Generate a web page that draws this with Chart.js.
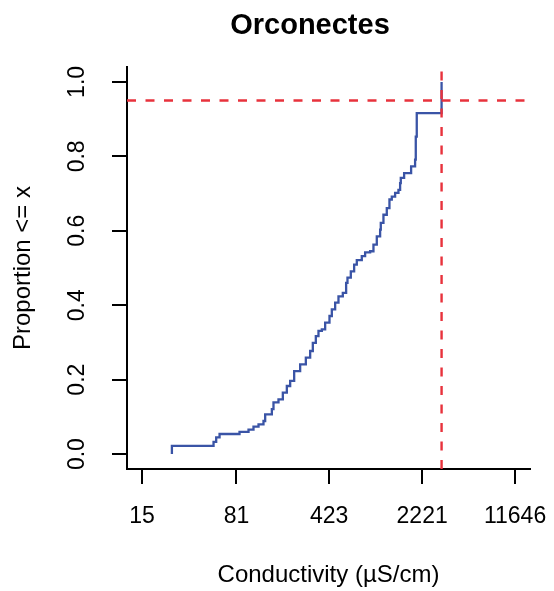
<!DOCTYPE html>
<html>
<head>
<meta charset="utf-8">
<script src="https://cdn.jsdelivr.net/npm/chart.js@4/dist/chart.umd.min.js"></script>
<style>
  html, body { margin: 0; padding: 0; background: #ffffff; }
  #wrap { width: 554px; height: 591px; }
</style>
</head>
<body>
<div id="wrap"><canvas id="c" width="554" height="591"></canvas></div>
<script>
// ---- data (ECDF of conductivity, µS/cm) ----
const conductivity = [25.6, 25.6, 53.8, 56.4, 59.9, 85.5, 100.4, 109.7, 120, 131.1, 135.1, 152.2, 156.7,
  171.3, 185.1, 198.8, 211, 226.6, 252.1, 279, 301.4, 316, 333.4, 349.6, 371.1, 393.8, 425.4, 443.5,
  470.6, 499.4, 539.5, 572.4, 586.3, 622.2, 660.3, 692.3, 756.8, 803.1, 878.2, 931.8, 989, 1049.5,
  1062, 1113.6, 1182, 1239.4, 1292.2, 1371.3, 1455.3, 1499, 1517, 1610, 1824, 1958, 1982, 2017, 3140];
const proportion = [0, 0.022, 0.033, 0.045, 0.054, 0.06, 0.066, 0.074, 0.08, 0.089, 0.107, 0.121, 0.139,
  0.147, 0.165, 0.183, 0.197, 0.223, 0.241, 0.259, 0.277, 0.299, 0.317, 0.331, 0.335, 0.353, 0.371, 0.389,
  0.407, 0.424, 0.433, 0.46, 0.474, 0.491, 0.509, 0.521, 0.532, 0.542, 0.545, 0.563, 0.585, 0.603,
  0.621, 0.643, 0.661, 0.684, 0.692, 0.702, 0.71, 0.728, 0.742, 0.755, 0.773, 0.791, 0.853, 0.916, 1.0];
const refConductivity = 3140;   // vertical dashed line
const refProportion = 0.95;     // horizontal dashed line
const xTickValues = [15, 81, 423, 2221, 11646];
const yTickValues = [0, 0.2, 0.4, 0.6, 0.8, 1.0];
const titleText = 'Orconectes';
const xTitle = 'Conductivity (µS/cm)';
const yTitle = 'Proportion <= x';

// axis limits: 4% extension of the tick range (log scale for x)
const lLo = Math.log10(xTickValues[0]), lHi = Math.log10(xTickValues[xTickValues.length - 1]);
const xMin = Math.pow(10, lLo - 0.04 * (lHi - lLo));
const xMax = Math.pow(10, lHi + 0.04 * (lHi - lLo));
const yMin = -0.04, yMax = 1.04;

Chart.defaults.font.family = '"Liberation Sans", Arial, Helvetica, sans-serif';
Chart.defaults.color = '#000000';

const ecdfPoints = conductivity.map((x, i) => ({ x: x, y: proportion[i] }));
const RED = '#e8323c';
const BLUE = '#3a54a6';

const titleShift = {
  id: 'titleShift',
  afterLayout(chart) {
    const t = chart.titleBlock;
    if (t) { const c = 310; const half = (t.right - t.left) / 2; t.left = c - half; t.right = c + half; }
  }
};

new Chart(document.getElementById('c'), {
  type: 'line',
  data: {
    datasets: [
      {
        data: [{ x: xMin, y: refProportion }, { x: xMax, y: refProportion }],
        borderColor: RED, borderWidth: 2.4, borderDash: [9, 9.5], pointRadius: 0, fill: false
      },
      {
        data: [{ x: refConductivity, y: yMin }, { x: refConductivity, y: yMax }],
        borderColor: RED, borderWidth: 2.4, borderDash: [9, 9.5], pointRadius: 0, fill: false
      },
      {
        data: ecdfPoints,
        borderColor: BLUE, borderWidth: 2.3, pointRadius: 0, fill: false, stepped: 'before'
      }
    ]
  },
  options: {
    responsive: false,
    animation: false,
    devicePixelRatio: 1,
    layout: { padding: { left: 0, right: 24, top: 0, bottom: 0 } },
    plugins: {
      legend: { display: false },
      tooltip: { enabled: false },
      title: {
        display: true, text: titleText,
        font: { size: 29, weight: 'bold' }, color: '#000',
        padding: { top: 8.6, bottom: 23.6 }
      }
    },
    scales: {
      x: {
        type: 'logarithmic', min: xMin, max: xMax,
        afterBuildTicks: (s) => { s.ticks = xTickValues.map(v => ({ value: v })); },
        afterFit: (s) => { s.height = 122; s.paddingLeft = 0; s.paddingRight = 0; },
        ticks: {
          autoSkip: false, maxRotation: 0, minRotation: 0, padding: 19,
          font: { size: 23 }, color: '#000',
          callback: (v) => String(v)
        },
        grid: { display: true, drawOnChartArea: false, drawTicks: true, tickLength: 15, color: '#000', lineWidth: 2 },
        border: { display: true, color: '#000', width: 2 },
        title: { display: true, text: xTitle, font: { size: 24 }, color: '#000', padding: { top: 0, bottom: 1.6 } }
      },
      y: {
        type: 'linear', min: yMin, max: yMax,
        afterBuildTicks: (s) => { s.ticks = yTickValues.map(v => ({ value: v })); },
        afterFit: (s) => { s.width = 127; s.paddingTop = 0; s.paddingBottom = 0; },
        ticks: {
          autoSkip: false, minRotation: 90, maxRotation: 90, crossAlign: 'center', padding: 18.5,
          font: { size: 23 }, color: '#000',
          callback: (v) => Number(v).toFixed(1)
        },
        grid: { display: true, drawOnChartArea: false, drawTicks: true, tickLength: 15, color: '#000', lineWidth: 2 },
        border: { display: true, color: '#000', width: 2 },
        title: { display: true, text: yTitle, font: { size: 24 }, color: '#000', padding: { top: 8.6, bottom: 0 } }
      }
    }
  },
  plugins: [titleShift]
});
</script>
</body>
</html>
